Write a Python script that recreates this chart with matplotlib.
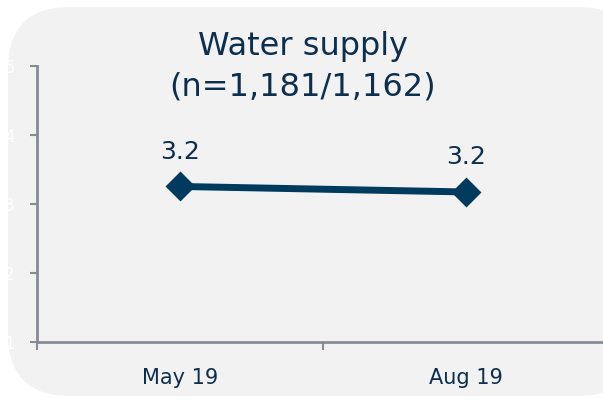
import matplotlib
matplotlib.use("Agg")
import matplotlib.pyplot as plt
from matplotlib.patches import FancyBboxPatch

categories = ["May 19", "Aug 19"]
values = [3.25, 3.17]
labels = ["3.2", "3.2"]
title = "Water supply\n(n=1,181/1,162)"
yticks = [1, 2, 3, 4, 5]

navy = "#003a5d"
textc = "#0d2f4f"
axc = "#868b96"
bg = "#f2f2f2"

W, H = 603, 401
fig = plt.figure(figsize=(W / 100, H / 100), dpi=100)
fig.patch.set_facecolor("white")

# rounded background panel
x0, y0, x1, y1 = 8, 7, 640, 396
r = 62
panel = FancyBboxPatch((x0 / W, 1 - y1 / H), (x1 - x0) / W, (y1 - y0) / H,
                       boxstyle=f"round,pad=0,rounding_size={r / W}",
                       transform=fig.transFigure, facecolor=bg, edgecolor="none",
                       mutation_aspect=W / H, zorder=-5)
fig.patches.append(panel)

ax_l, ax_r = 37, 609
ax_t, ax_b = 65.7, 341.7
ax = fig.add_axes([ax_l / W, 1 - ax_b / H, (ax_r - ax_l) / W, (ax_b - ax_t) / H])
ax.set_facecolor("none")
ax.set_zorder(2)

xs = [0.5, 1.5]
ax.plot(xs, values, color=navy, lw=5, marker="D", markersize=13,
        markeredgewidth=2, markeredgecolor=navy, markerfacecolor=navy,
        solid_capstyle="round", clip_on=False, zorder=3)
for x, v, lab in zip(xs, values, labels):
    ax.text(x, v + 0.33, lab, ha="center", va="bottom", fontsize=18, color=textc)

ax.set_xlim(0, 2)
ax.set_ylim(1, 5)
ax.set_yticks(yticks)
ax.set_yticklabels([str(t) for t in yticks], color="white", fontsize=12)
ax.set_xticks([0, 1, 2])
ax.set_xticklabels([])
ax.set_xticks(xs, minor=True)
ax.set_xticklabels(categories, minor=True, fontsize=15, color=textc)
ax.tick_params(axis="x", which="minor", length=0, pad=19)
ax.tick_params(axis="x", which="major", length=6, color=axc, width=1.5, direction="out")
ax.tick_params(axis="y", length=5, color=axc, width=1.5, pad=11)

for s in ["top", "right"]:
    ax.spines[s].set_visible(False)
for s in ["left", "bottom"]:
    ax.spines[s].set_color(axc)
    ax.spines[s].set_linewidth(2)

fig.text(303 / W, 1 - 67 / H, title, ha="center", va="center", fontsize=23,
         color=textc, linespacing=1.4, zorder=3)

fig.savefig("out.png", dpi=100)
